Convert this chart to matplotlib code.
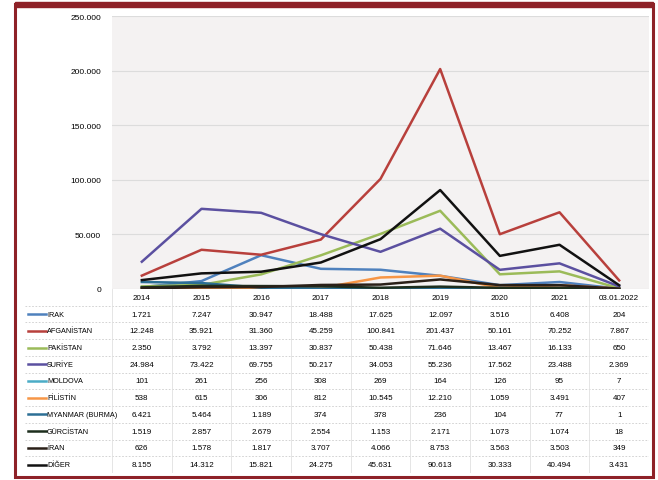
import numpy as np
import matplotlib
matplotlib.use('Agg')
import matplotlib.pyplot as plt
from matplotlib.patches import Rectangle

plt.rcParams['font.family'] = ['Liberation Sans', 'DejaVu Sans']

# Data
years = ['2014', '2015', '2016', '2017', '2018', '2019', '2020', '2021', '03.01.2022']
countries = ['IRAK', 'AFGANİSTAN', 'PAKİSTAN', 'SURİYE', 'MOLDOVA', 'FİLİSTİN',
             'MYANMAR (BURMA)', 'GÜRCİSTAN', 'İRAN', 'DİĞER']
irak = [1721, 7247, 30947, 18488, 17625, 12097, 3516, 6408, 204]
afganistan = [12248, 35921, 31360, 45259, 100841, 201437, 50161, 70252, 7867]
pakistan = [2350, 3792, 13397, 30837, 50438, 71646, 13467, 16133, 650]
suriye = [24984, 73422, 69755, 50217, 34053, 55236, 17562, 23488, 2369]
moldova = [101, 261, 256, 308, 269, 164, 126, 95, 7]
filistin = [538, 615, 306, 812, 10545, 12210, 1059, 3491, 407]
myanmar = [6421, 5464, 1189, 374, 378, 236, 104, 77, 1]
gurcistan = [1519, 2857, 2679, 2554, 1153, 2171, 1073, 1074, 18]
iran = [626, 1578, 1817, 3707, 4066, 8753, 3563, 3503, 349]
diger = [8155, 14312, 15821, 24275, 45631, 90613, 30333, 40494, 3431]

series = [irak, afganistan, pakistan, suriye, moldova, filistin,
          myanmar, gurcistan, iran, diger]
colors = ['#4f81bd', '#b8403c', '#9bbb59', '#5b50a0', '#4bacc6', '#f79646',
          '#2c6f95', '#1d2e1d', '#2a2018', '#111111']

def fmt(v):
    return f'{v:,}'.replace(',', '.')

W, H = 658, 481
fig = plt.figure(figsize=(W / 100, H / 100), dpi=100)

# Red frame around the picture
fig.patches.append(Rectangle((15 / W, 3 / H), 638 / W, 473 / H,
                             transform=fig.transFigure, fill=False,
                             edgecolor='#8e2228', linewidth=2.2))
fig.patches.append(Rectangle((15 / W, (H - 8) / H), 638 / W, 5 / H,
                             transform=fig.transFigure, color='#8e2228'))

# Chart panel
x0, x1 = 112, 649
y_top, y_bot = 17, 290
ax = fig.add_axes([x0 / W, (H - y_bot) / H, (x1 - x0) / W, (y_bot - y_top) / H])
ax.set_facecolor('#f4f2f2')
x = np.arange(len(years))
for vals, c in zip(series, colors):
    ax.plot(x, vals, color=c, linewidth=1.8)
ax.set_xlim(-0.5, len(years) - 0.5)
ax.set_ylim(0, 250000)
ax.set_yticks(np.arange(0, 250001, 50000))
ax.set_yticklabels([fmt(v) for v in range(0, 250001, 50000)], fontsize=6)
ax.set_xticks([])
ax.grid(axis='y', color='#dcdcdc', linewidth=0.8)
ax.set_axisbelow(True)
ax.tick_params(axis='y', length=0, pad=8)
for s in ax.spines.values():
    s.set_visible(False)

# Data table panel
t_left, t_right = 25, 649
t_top, t_bot = 290, 474
unit = (x1 - x0) / len(years)
lab_units = (x0 - t_left) / unit
tax = fig.add_axes([t_left / W, (H - t_bot) / H, (t_right - t_left) / W, (t_bot - t_top) / H])
tax.set_xlim(-0.5 - lab_units, len(years) - 0.5)
nrows = len(countries) + 1
tax.set_ylim(nrows, 0)
tax.axis('off')

for j, yr in enumerate(years):
    tax.text(j, 0.5, yr, ha='center', va='center', fontsize=5.8)
for i, (name, vals, c) in enumerate(zip(countries, series, colors)):
    r = i + 1.5
    tax.plot([-0.5 - lab_units + 0.05, -0.5 - lab_units + 0.35], [r, r], color=c, linewidth=1.8)
    tax.text(-0.5 - lab_units + 0.37, r, name, ha='left', va='center', fontsize=5.2)
    for j, v in enumerate(vals):
        tax.text(j, r, fmt(v), ha='center', va='center', fontsize=5.8)
for i in range(1, nrows):
    tax.plot([-0.5 - lab_units, len(years) - 0.5], [i, i], color='#cccccc',
             linewidth=0.6, linestyle=(0, (2, 2)))
for j in range(len(years)):
    tax.plot([j - 0.5, j - 0.5], [0, nrows], color='#e0e0e0', linewidth=0.6)

fig.savefig('out.png', dpi=100)
